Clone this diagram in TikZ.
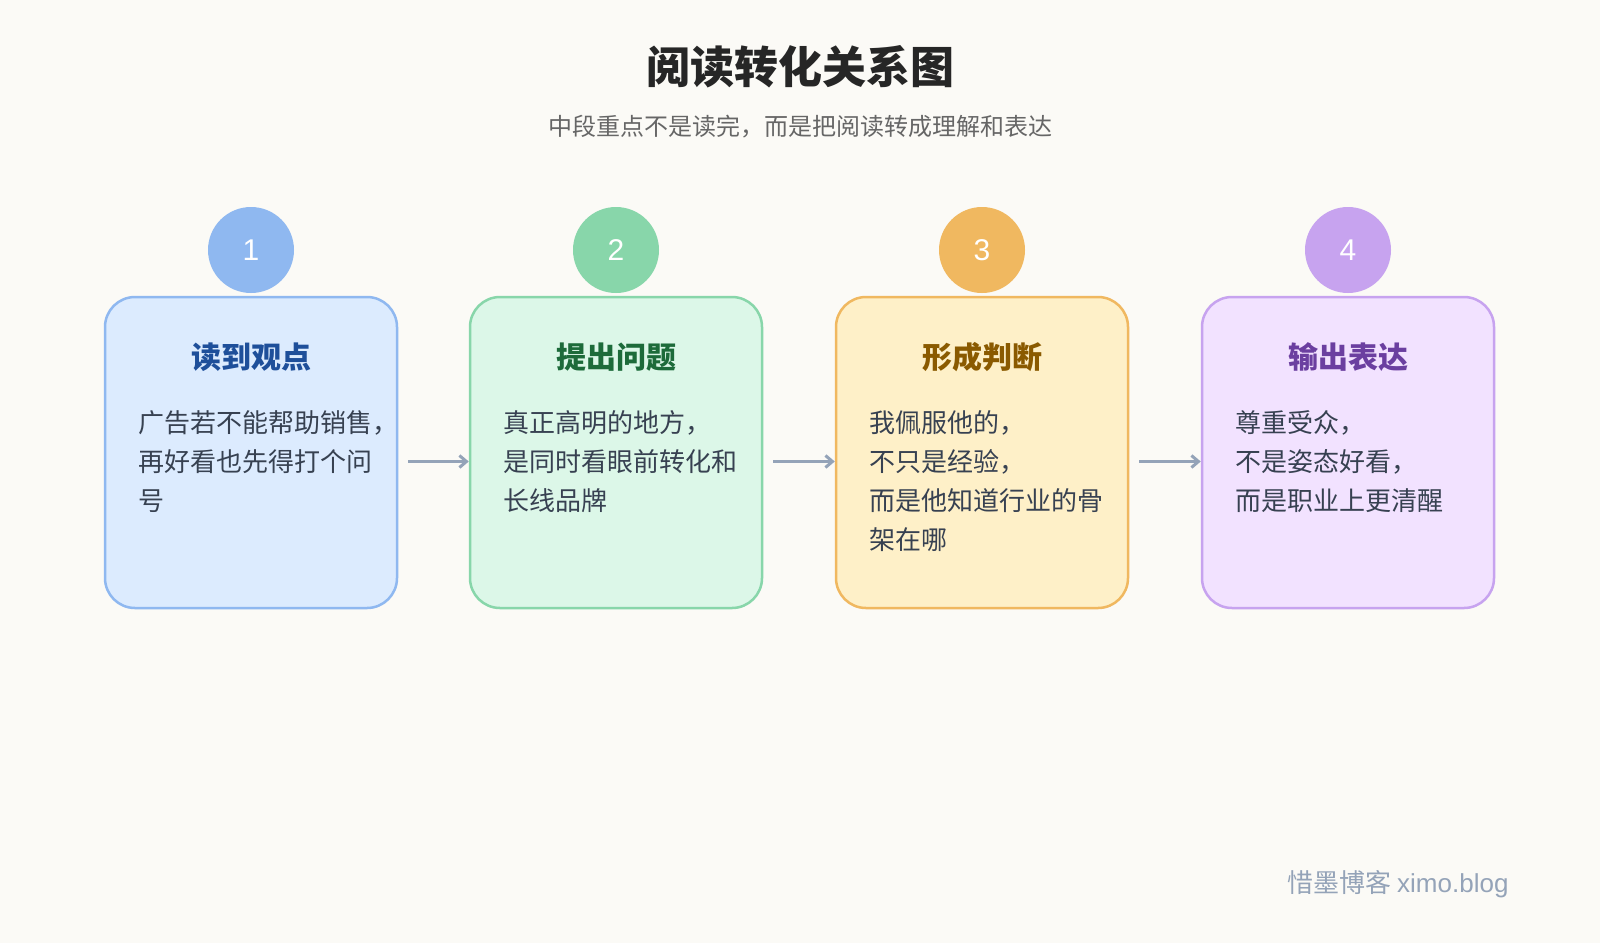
\documentclass[tikz,border=0pt]{standalone}
\usepackage{fontspec}
\setmainfont{Noto Sans CJK SC}
\setsansfont{Liberation Sans}
\usetikzlibrary{arrows.meta}
\definecolor{bg}{HTML}{FBFAF6}
\definecolor{ar}{HTML}{94A3B8}
\definecolor{fa}{HTML}{DCEBFE}\definecolor{sa}{HTML}{8FB8F0}\definecolor{ta}{HTML}{1E4F9A}
\definecolor{fb}{HTML}{DCF7E8}\definecolor{sb}{HTML}{88D6AA}\definecolor{tb}{HTML}{1D6B3A}
\definecolor{fc}{HTML}{FEF0C8}\definecolor{sc}{HTML}{F0B860}\definecolor{tc}{HTML}{8A5A00}
\definecolor{fd}{HTML}{F2E2FF}\definecolor{sd}{HTML}{C7A3EF}\definecolor{td}{HTML}{6B3FA0}
\definecolor{bodyc}{HTML}{374151}
\begin{document}
\begin{tikzpicture}[x=1pt,y=-1pt,
 box/.style={draw,line width=2.5pt,rounded corners=30pt,minimum width=292pt,minimum height=311pt,inner sep=0pt},
 num/.style={circle,minimum size=86pt,inner sep=0pt,text=white,font=\fontsize{30}{30}\selectfont\sffamily},
 ttl/.style={font=\fontsize{30}{30}\selectfont\bfseries},
 body/.style={anchor=north west,align=left,inner sep=0pt,text=bodyc,font=\fontsize{26}{39}\selectfont},
 arr/.style={draw=ar,line width=3pt,-{Straight Barb[length=7pt,width=12pt]}}]
\fill[bg] (0,0) rectangle (1600,943);
\node[font=\fontsize{44}{44}\selectfont\bfseries,text=black!85] (t) at (800,67) {阅读转化关系图};
\node[font=\fontsize{24}{24}\selectfont,text=black!60] (st) at (800,127) {中段重点不是读完，而是把阅读转成理解和表达};
\foreach \i/\x/\f/\s/\c/\h/\b in {
 1/251/fa/sa/ta/读到观点/{广告若不能帮助销售，\\再好看也先得打个问\\号},
 2/616/fb/sb/tb/提出问题/{真正高明的地方，\\是同时看眼前转化和\\长线品牌},
 3/982/fc/sc/tc/形成判断/{我佩服他的，\\不只是经验，\\而是他知道行业的骨\\架在哪},
 4/1348/fd/sd/td/输出表达/{尊重受众，\\不是姿态好看，\\而是职业上更清醒}}{
 \node[box,fill=\f,draw=\s] (b\i) at (\x,452.5) {};
 \node[num,fill=\s] (n\i) at (\x,250) {\i};
 \node[ttl,text=\c] (h\i) at (\x,357) {\h};
 \node[body] (p\i) at (\x-113,410) {\b};
}
\foreach \a/\b in {1/2,2/3,3/4}{\draw[arr] ([xshift=10pt,yshift=-9pt]b\a.east) -- ([yshift=-9pt]b\b.west);}
\node[anchor=east,text=ar,font=\fontsize{26}{26}\selectfont] (w) at (1512,884) {惜墨博客 {\sffamily ximo.blog}};
\end{tikzpicture}
\end{document}
